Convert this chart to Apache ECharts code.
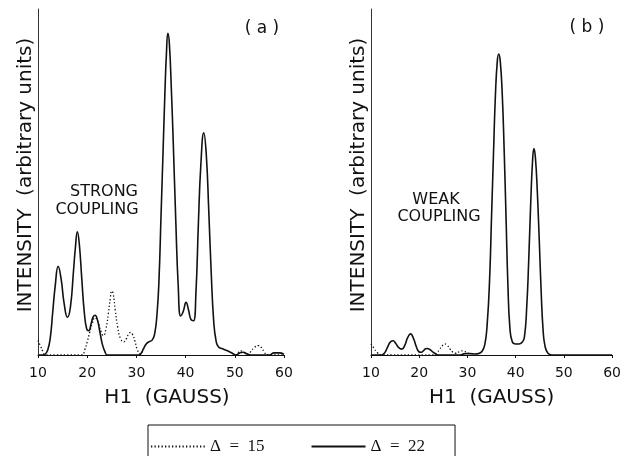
<!DOCTYPE html>
<html>
<head>
<meta charset="utf-8">
<script src="https://cdn.jsdelivr.net/npm/echarts@6/dist/echarts.min.js"></script>
<style>html,body{margin:0;padding:0;background:#fff}#c{width:624px;height:456px}</style>
</head>
<body>
<div id="c"></div>
<script>
// ---- Data ----
const xTicks = [10, 20, 30, 40, 50, 60];
const seriesNames = ['Δ\u2002=\u200215', 'Δ\u2002=\u200222'];
const panelLabels = ['( a )', '( b )'];

// Panel (a) strong coupling, Delta = 22 (solid)
const aSolidX = [10, 11, 11.5, 12, 12.5, 13, 13.5, 14.1, 14.7, 15.3, 16, 16.6, 17.2, 17.6, 18, 18.4, 18.9, 19.4, 19.9, 20.3, 20.8, 21.2, 21.6, 22.1, 22.6, 23.1, 23.6, 24.1, 30.5, 31, 31.5, 32, 32.5, 33.2, 33.7, 34.2, 34.6, 35, 35.4, 35.8, 36.1, 36.4, 36.7, 37.1, 37.5, 38, 38.5, 39, 39.5, 40.1, 40.6, 41.1, 41.6, 42.1, 42.6, 43.1, 43.7, 44.2, 44.7, 45.2, 45.7, 46.2, 46.7, 47.5, 48.5, 49.5, 50.2, 51, 51.7, 52.5, 53.5, 57, 58, 59, 60];
const aSolidY = [0, 0, 0.3, 1.5, 5, 12.5, 20, 25.6, 22, 15, 10.9, 14, 24, 31, 35.6, 32, 22, 12.5, 7.5, 7, 9, 11, 11.5, 10, 6.5, 3, 1, 0, 0, 0.6, 2, 3.2, 3.8, 4.3, 6, 12, 22, 40, 58, 76, 87, 93, 90, 77, 61, 39, 20, 11.3, 12.5, 15.2, 13, 10.2, 9.9, 18, 38, 55, 64.2, 58, 42, 24, 10, 4, 2.3, 1.8, 1.2, 0.5, 0, 0.6, 0.8, 0.3, 0, 0, 0.6, 0.6, 0.2];

// Panel (a) strong coupling, Delta = 15 (dotted) — where it departs from the solid trace
const aDotLowX = [10, 10.5, 11, 11.5, 18.9, 19.5, 20, 20.5, 21, 21.6, 22.2, 22.8, 23.3, 23.8, 24.3, 24.7, 25, 25.3, 25.7, 26.2, 26.7, 27.4, 28, 28.4, 28.8, 29.2, 29.7, 30.2, 30.8, 31.5];
const aDotLowY = [4.2, 2.6, 1, 0, 0, 1.5, 3.8, 6.5, 9, 10.8, 9.5, 6.8, 5.6, 7.5, 12, 16.5, 18.5, 17.5, 13, 8, 5, 3.8, 4.8, 6, 6.5, 6, 4, 1.5, 0.3, 2];
const aDotHighX = [49.5, 50.2, 50.6, 51.2, 51.8, 52.5, 53.2, 54, 54.8, 55.5, 56, 56.6, 60];
const aDotHighY = [0.5, 0, 0.6, 1.2, 0.8, 0.3, 0.9, 2.2, 2.7, 2, 0.8, 0, 0];

// Panel (b) weak coupling, Delta = 22 (solid)
const bSolidX = [10, 12, 12.5, 13, 13.6, 14.1, 14.6, 15.1, 15.7, 16.4, 17, 17.6, 18.2, 18.8, 19.4, 19.9, 20.4, 20.9, 21.3, 21.7, 22.2, 22.8, 23.4, 24.1, 28.5, 29.5, 30.5, 31.5, 32.3, 33, 33.6, 34.1, 34.6, 35, 35.4, 35.8, 36.2, 36.5, 36.8, 37.2, 37.6, 38, 38.4, 38.8, 39.3, 40, 40.7, 41.3, 41.8, 42.3, 42.7, 43.1, 43.5, 43.8, 44.1, 44.5, 44.9, 45.3, 45.7, 46.1, 46.7, 47.5, 60];
const bSolidY = [0, 0, 0.2, 1, 2.8, 3.9, 4.1, 3.4, 2.2, 1.7, 2.8, 5, 6.1, 4.8, 2.4, 1, 0.8, 1.3, 1.8, 1.9, 1.6, 0.9, 0.3, 0, 0, 0.4, 0.4, 0.3, 0.4, 1, 3, 9, 22, 40, 58, 75, 85, 87, 85, 76, 60, 40, 20, 8, 3.8, 3.2, 3.2, 3.6, 5, 14, 27, 43, 56, 59.7, 57, 47, 33, 18, 7, 2.5, 0.5, 0, 0];

// Panel (b) weak coupling, Delta = 15 (dotted) — merges with the solid trace above ~31 G
const bDotX = [10, 10.6, 11.3, 12.2, 23, 23.6, 24.2, 24.8, 25.3, 25.8, 26.4, 27, 27.6, 28.4, 29.1, 29.8, 30.5, 31.5];
const bDotY = [3.2, 2, 0.7, 0, 0, 0.6, 1.6, 2.7, 3.2, 2.8, 1.7, 0.8, 0.5, 1, 1.2, 0.8, 0.4, 0.3];

const annotA = ['STRONG', 'COUPLING'];
const annotB = ['WEAK', 'COUPLING'];

// ---- Chart ----
const pair = (xs, ys) => xs.map((x, i) => [x, ys[i]]);
const INK = '#111';
const SANS = 'DejaVu Sans';

function xAxisFor(gridIndex, namePad) {
  return {
    type: 'value', gridIndex, min: 10, max: 60, interval: 10,
    name: 'H1  (GAUSS)', nameLocation: 'middle', nameGap: 33,
    nameTextStyle: { color: INK, fontSize: 20, fontFamily: SANS, padding: namePad },
    axisLine: { show: true, onZero: false, lineStyle: { color: INK, width: 1.2 } },
    axisTick: { show: true, length: 3, lineStyle: { color: INK } },
    axisLabel: { color: INK, fontSize: 14, fontFamily: SANS, margin: 11,
      formatter: v => xTicks.includes(v) ? String(v) : '' },
    splitLine: { show: false }
  };
}
function yAxisFor(gridIndex) {
  return {
    type: 'value', gridIndex, min: 0, max: 100,
    name: 'INTENSITY  (arbitrary units)', nameLocation: 'middle', nameRotate: 90, nameGap: 2,
    nameTextStyle: { color: INK, fontSize: 20, fontFamily: SANS, padding: [0, 0, 0, 14] },
    axisLine: { show: true, lineStyle: { color: '#333', width: 1 } },
    axisTick: { show: false }, axisLabel: { show: false }, splitLine: { show: false }
  };
}
function lineSeries(name, xi, data, dotted) {
  return {
    type: 'line', name, xAxisIndex: xi, yAxisIndex: xi, data,
    smooth: 0.5, symbol: 'none', silent: true,
    lineStyle: dotted ? { color: INK, width: 1.3, type: [1.3, 2.2] } : { color: INK, width: 1.6 },
    itemStyle: { color: INK }, z: dotted ? 2 : 3
  };
}
function txt(text, x, y, size) {
  return { type: 'text', x, y, style: { text, fill: INK, font: size + 'px "' + SANS + '"', align: 'center', verticalAlign: 'middle' } };
}

const chart = echarts.init(document.getElementById('c'), null, { renderer: 'canvas' });
chart.setOption({
  backgroundColor: '#fff',
  animation: false,
  grid: [
    { left: 38, right: 340, top: 9, bottom: 101 },
    { left: 371, right: 9, top: 9, bottom: 101 }
  ],
  xAxis: [xAxisFor(0, [0, 0, 0, 12]), xAxisFor(1, [0, 0, 0, 0])],
  yAxis: [yAxisFor(0), yAxisFor(1)],
  legend: {
    data: seriesNames, left: 148, top: 425,
    itemWidth: 54, itemHeight: 14, itemGap: 46,
    padding: [13, 30, 3, 2],
    borderColor: INK, borderWidth: 1,
    itemStyle: { opacity: 0 },
    textStyle: { color: INK, fontSize: 17, fontFamily: 'Liberation Serif' },
    selectedMode: false
  },
  series: [
    lineSeries(seriesNames[0], 0, pair(aDotLowX, aDotLowY), true),
    lineSeries(seriesNames[0], 0, pair(aDotHighX, aDotHighY), true),
    lineSeries(seriesNames[1], 0, pair(aSolidX, aSolidY), false),
    lineSeries(seriesNames[0], 1, pair(bDotX, bDotY), true),
    lineSeries(seriesNames[1], 1, pair(bSolidX, bSolidY), false)
  ],
  graphic: [
    txt(panelLabels[0], 262, 29, 17),
    txt(panelLabels[1], 587, 28, 17),
    txt(annotA[0], 104, 192, 16),
    txt(annotA[1], 97, 210, 16),
    txt(annotB[0], 436, 200, 16),
    txt(annotB[1], 439, 217, 16)
  ]
});
</script>
</body>
</html>
